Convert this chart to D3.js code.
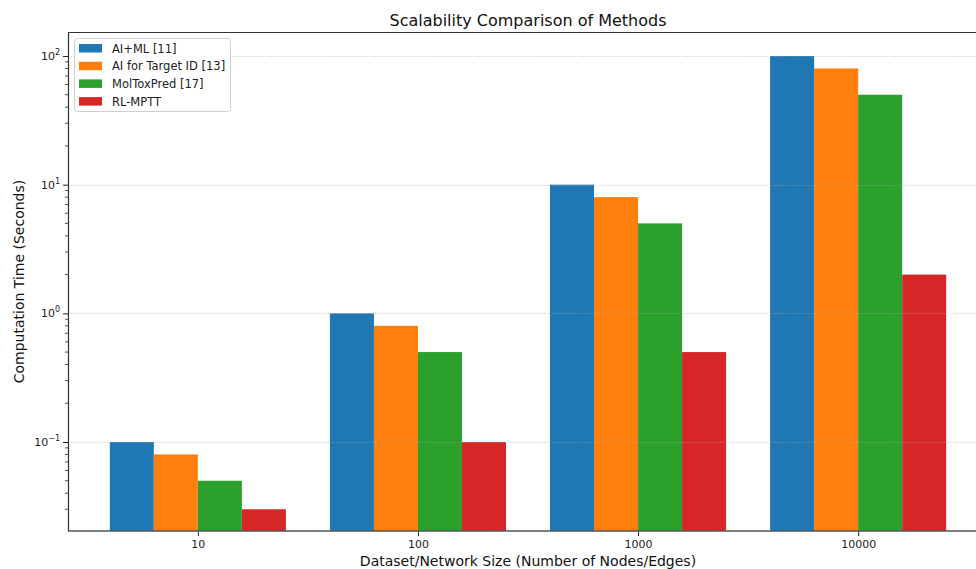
<!DOCTYPE html>
<html>
<head>
<meta charset="utf-8">
<script src="https://cdn.jsdelivr.net/npm/d3@7"></script>
<style>
  html, body { margin: 0; padding: 0; background: #fff; }
  svg { display: block; font-family: "DejaVu Sans", sans-serif; }
</style>
</head>
<body>
<svg id="chart" width="976" height="569"></svg>
<script>
const categories = ["10", "100", "1000", "10000"];
const seriesNames = ["AI+ML [11]", "AI for Target ID [13]", "MolToxPred [17]", "RL-MPTT"];
const aiMl = [0.1, 1, 10, 100];
const aiTarget = [0.08, 0.8, 8, 80];
const molTox = [0.05, 0.5, 5, 50];
const rlMptt = [0.03, 0.1, 0.5, 2];
const colors = ["#1f77b4", "#ff7f0e", "#2ca02c", "#d62728"];
const yTicks = [0.1, 1, 10, 100];
const yTickExp = ["\u22121", "0", "1", "2"];

const series = [aiMl, aiTarget, molTox, rlMptt];

const svg = d3.select("#chart");
const pL = 68, pT = 32, pR = 988, pB = 531;

const x = d3.scaleLinear().domain([-0.59, 3.59]).range([pL, pR]);
const barW = 0.2;
const y = d3.scaleLog().domain([Math.pow(10, -1.6917), Math.pow(10, 2.1865)]).range([pB, pT]);

svg.append("defs").append("clipPath").attr("id", "plotclip")
  .append("rect").attr("x", pL).attr("y", pT).attr("width", pR - pL).attr("height", pB - pT);

const plot = svg.append("g").attr("clip-path", "url(#plotclip)");

// bars
series.forEach((vals, j) => {
  plot.append("g").selectAll("rect").data(vals).join("rect")
    .attr("x", (d, i) => x(i + (j - 1.5) * barW - barW / 2))
    .attr("width", (d, i) => x(i + (j - 1.5) * barW + barW / 2) - x(i + (j - 1.5) * barW - barW / 2))
    .attr("y", d => y(d))
    .attr("height", d => pB - y(d))
    .attr("fill", colors[j]);
});

// grid (over bars)
plot.append("g").selectAll("line").data(yTicks).join("line")
  .attr("x1", pL).attr("x2", pR)
  .attr("y1", d => Math.round(y(d)) + 0.5).attr("y2", d => Math.round(y(d)) + 0.5)
  .attr("stroke", "#b0b0b0").attr("stroke-width", 0.8)
  .attr("stroke-dasharray", "1,1.6").attr("opacity", 0.8);

// y axis with minor ticks
const yAxis = d3.axisLeft(y).tickValues(yTicks).tickSize(5).tickFormat("");
const gy = svg.append("g").attr("transform", `translate(${pL},0)`).call(yAxis);
gy.select(".domain").remove();
gy.selectAll(".tick line").attr("stroke", "#222");

const minor = [];
for (let e = -2; e <= 2; e++) for (let m = 2; m <= 9; m++) {
  const v = m * Math.pow(10, e);
  if (v >= y.domain()[0] && v <= y.domain()[1]) minor.push(v);
}
svg.append("g").selectAll("line").data(minor).join("line")
  .attr("x1", pL - 3).attr("x2", pL)
  .attr("y1", d => y(d)).attr("y2", d => y(d))
  .attr("stroke", "#222").attr("stroke-width", 0.8);

// y tick labels
const yl = svg.append("g").selectAll("text").data(yTicks).join("text")
  .attr("x", pL - 8).attr("y", d => y(d) + 4)
  .attr("text-anchor", "end").attr("font-size", 11).attr("fill", "#222");
yl.append("tspan").text("10");
yl.append("tspan").attr("dy", -5).attr("font-size", 8).text((d, i) => yTickExp[i]);

// x axis
const xAxis = d3.axisBottom(x).tickValues([0, 1, 2, 3]).tickSize(5).tickFormat((d) => categories[d]);
const gx = svg.append("g").attr("transform", `translate(0,${pB})`).call(xAxis);
gx.select(".domain").remove();
gx.selectAll(".tick line").attr("stroke", "#222");
gx.selectAll(".tick text").attr("font-size", 11).attr("fill", "#222").attr("dy", "0.8em")
  .attr("font-family", "DejaVu Sans, sans-serif");

// spines
svg.append("line").attr("x1", pL).attr("x2", pR).attr("y1", pT + 0.5).attr("y2", pT + 0.5)
  .attr("stroke", "#333").attr("stroke-width", 1.2);
svg.append("line").attr("x1", pL).attr("x2", pR).attr("y1", pB).attr("y2", pB)
  .attr("stroke", "#555").attr("stroke-width", 1.6);
svg.append("line").attr("x1", pL + 0.5).attr("x2", pL + 0.5).attr("y1", pT).attr("y2", pB)
  .attr("stroke", "#333").attr("stroke-width", 1.2);
svg.append("line").attr("x1", pR).attr("x2", pR).attr("y1", pT).attr("y2", pB)
  .attr("stroke", "#333").attr("stroke-width", 1.2);

// title and axis labels
svg.append("text").attr("x", (pL + pR) / 2).attr("y", 26)
  .attr("text-anchor", "middle").attr("font-size", 16).attr("fill", "#111")
  .text("Scalability Comparison of Methods");
svg.append("text").attr("x", (pL + pR) / 2).attr("y", 566)
  .attr("text-anchor", "middle").attr("font-size", 14).attr("fill", "#111")
  .text("Dataset/Network Size (Number of Nodes/Edges)");
svg.append("text").attr("transform", `translate(24,${(pT + pB) / 2}) rotate(-90)`)
  .attr("text-anchor", "middle").attr("font-size", 14).attr("fill", "#111")
  .text("Computation Time (Seconds)");

// legend
const lg = svg.append("g").attr("transform", "translate(74,38)");
lg.append("rect").attr("x", 0.5).attr("y", 0.5).attr("width", 156).attr("height", 73)
  .attr("rx", 3).attr("fill", "#fff").attr("fill-opacity", 0.8)
  .attr("stroke", "#d0d0d0").attr("stroke-width", 1);
seriesNames.forEach((name, i) => {
  lg.append("rect").attr("x", 5).attr("y", 6 + i * 17.7).attr("width", 23).attr("height", 8.5)
    .attr("fill", colors[i]);
  lg.append("text").attr("x", 38).attr("y", 14.5 + i * 17.7)
    .attr("font-size", 11.5).attr("fill", "#222").text(name);
});
</script>
</body>
</html>
